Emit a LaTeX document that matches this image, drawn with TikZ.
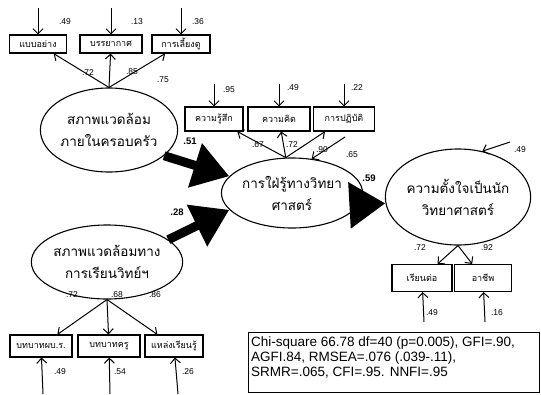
\documentclass[tikz,border=0pt]{standalone}
\usepackage{fontspec}
\setmainfont{Liberation Sans}
\newfontfamily\thai[Script=Thai]{Loma}
\usetikzlibrary{shapes.geometric,arrows.meta}
\begin{document}
\begin{tikzpicture}[x=1pt,y=-1pt,
  latent/.style={ellipse,draw,line width=1.1pt,inner sep=0pt,align=center,
    font=\thai\fontsize{13.5}{22}\selectfont},
  obs/.style={rectangle,draw,line width=1.1pt,inner sep=0pt,
    font=\thai\fontsize{9}{10}\selectfont},
  path/.style={line width=1pt,-{Straight Barb[length=5pt,width=10pt]}},
  big/.style={line width=9pt,-{Triangle[length=36pt,width=44pt]}},
  coef/.style={font=\fontsize{8.5}{9}\selectfont,inner sep=0pt},
  bcoef/.style={font=\bfseries\fontsize{9.5}{10}\selectfont,inner sep=0pt}]
\useasboundingbox (0,0) rectangle (541,394);

% latent variables
\node[latent,minimum width=112pt,minimum height=84pt] (E1) at (109,130) {สภาพแวดล้อม\\ภายในครอบครัว};
\node[latent,minimum width=126pt,minimum height=70pt] (E2) at (292,193) {การใฝ่รู้ทางวิทยา\\ศาสตร์};
\node[latent,minimum width=120pt,minimum height=74pt] (E3) at (107,262) {สภาพแวดล้อมทาง\\การเรียนวิทย์ฯ};
\node[latent,minimum width=142pt,minimum height=96pt] (E4) at (458,197) {ความตั้งใจเป็นนัก\\วิทยาศาสตร์};

% observed indicators
\node[obs,minimum width=57pt,minimum height=18pt] (b1) at (38,44) {แบบอย่าง};
\node[obs,minimum width=62pt,minimum height=18pt] (b2) at (111,44) {บรรยากาศ};
\node[obs,minimum width=58pt,minimum height=18pt] (b3) at (181,44) {การเลี้ยงดู};

\node[obs,minimum width=58pt,minimum height=24pt] (m1) at (214,119) {ความรู้สึก};
\node[obs,minimum width=62pt,minimum height=24pt] (m2) at (279,119) {ความคิด};
\node[obs,minimum width=61pt,minimum height=24pt] (m3) at (344,119) {การปฏิบัติ};

\node[obs,minimum width=60pt,minimum height=27pt] (r1) at (422,278) {เรียนต่อ};
\node[obs,minimum width=57pt,minimum height=27pt] (r2) at (483,278) {อาชีพ};

\node[obs,minimum width=62pt,minimum height=22pt] (l1) at (41,346) {บทบาทผบ.ร.};
\node[obs,minimum width=62pt,minimum height=22pt] (l2) at (109,346) {บทบาทครู};
\node[obs,minimum width=58pt,minimum height=22pt] (l3) at (174,346) {แหล่งเรียนรู้};

% error terms
\coordinate (eb1) at (38,8);   \coordinate (eb2) at (111,8);  \coordinate (eb3) at (181,8);
\coordinate (em1) at (214,84); \coordinate (em2) at (279,84); \coordinate (em3) at (344,84);
\coordinate (er1) at (424,322); \coordinate (er2) at (485,322);
\coordinate (el1) at (43,394); \coordinate (el2) at (110,394); \coordinate (el3) at (178,394);
\coordinate (ez2) at (345,137); \coordinate (ez4) at (510,142);

\foreach \e/\t in {eb1/b1,eb2/b2,eb3/b3,em1/m1,em2/m2,em3/m3,er1/r1,er2/r2,el1/l1,el2/l2,el3/l3}
  \draw[path] (\e) -- (\t);
\draw[path] (ez2) -- (E2.60);
\draw[path] (ez4) -- (E4.62);

% loadings
\foreach \t in {b1,b2,b3} \draw[path] (E1.north) -- (\t);
\foreach \t in {m1,m2,m3} \draw[path] (E2.100) -- (\t);
\foreach \t in {r1,r2} \draw[path] (E4.south) -- (\t);
\foreach \t in {l1,l2,l3} \draw[path] (E3.south) -- (\t);

% structural paths
\draw[big] (E1.-25) -- (E2.165);
\draw[big] (E3.20) -- (E2.195);
\draw[big] (E2.-10) -- (E4.185);

% coefficients
\node[coef] (c1) at (65,22) {.49};
\node[coef] (c2) at (137,22) {.13};
\node[coef] (c3) at (198,22) {.36};
\node[coef] (c4) at (88,73) {.72};
\node[coef] (c5) at (132,72) {.85};
\node[coef] (c6) at (163,80) {.75};
\node[coef] (c7) at (229,90) {.95};
\node[coef] (c8) at (293,88) {.49};
\node[coef] (c9) at (357,88) {.22};
\node[coef] (c10) at (258,145) {.67};
\node[coef] (c11) at (292,145) {.72};
\node[coef] (c12) at (322,150) {.90};
\node[coef] (c13) at (352,155) {.65};
\node[coef] (c14) at (520,150) {.49};
\node[coef] (c15) at (420,248) {.72};
\node[coef] (c16) at (487,248) {.92};
\node[coef] (c17) at (432,313) {.49};
\node[coef] (c18) at (497,313) {.16};
\node[coef] (c19) at (72,295) {.72};
\node[coef] (c20) at (117,295) {.68};
\node[coef] (c21) at (155,295) {.86};
\node[coef] (c22) at (60,372) {.49};
\node[coef] (c23) at (120,372) {.54};
\node[coef] (c24) at (188,372) {.26};
\node[bcoef] (k1) at (190,141) {.51};
\node[bcoef] (k2) at (177,212) {.28};
\node[bcoef] (k3) at (369,178) {.59};

% fit indices
\node[draw,line width=1pt,anchor=north west,
  minimum width=291pt,minimum height=60pt,inner sep=0pt] (fit) at (248,332) {};
\node[anchor=north west,align=left,inner sep=0pt,font=\fontsize{13.5}{15}\selectfont]
  (fittxt) at (251,337)
  {Chi-square 66.78 df=40 (p=0.005), GFI=.90,\\AGFI.84, RMSEA=.076 (.039-.11),\\SRMR=.065, CFI=.95. NNFI=.95};
\end{tikzpicture}
\end{document}
